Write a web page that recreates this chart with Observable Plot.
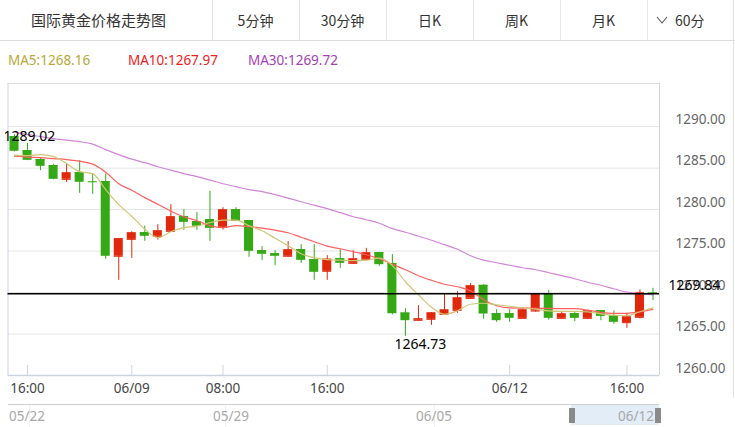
<!DOCTYPE html>
<html><head><meta charset="utf-8">
<script src="https://cdn.jsdelivr.net/npm/d3@7"></script>
<script src="https://cdn.jsdelivr.net/npm/@observablehq/plot@0.6"></script>
<style>
body{margin:0;background:#fff;font-family:"Noto Sans","Noto Sans CJK SC",sans-serif;}
#wrap{position:relative;width:735px;height:427px;overflow:hidden;background:#fff;}
.tabbar{position:absolute;left:0;top:0;width:735px;height:40px;border-bottom:1px solid #dcdcdc;}
.tab{position:absolute;top:0;height:40px;line-height:40px;text-align:center;color:#333;font-size:14px;font-family:"Noto Sans CJK SC","Noto Sans",sans-serif;}
.sep{position:absolute;top:0;width:1px;height:40px;background:#e6e6e6;}
.legend{position:absolute;top:51px;font-size:13.5px;line-height:18px;}
#chart{position:absolute;left:0;top:70px;}
.nav{position:absolute;left:8px;top:404px;width:651px;height:22px;border-top:1px solid #cfcfcf;}
.navlab{position:absolute;top:2px;font-size:13.5px;color:#a8a8a8;line-height:18px;}
.navtick{position:absolute;top:0;width:1px;height:22px;background:#eef1f5;}
.sel{position:absolute;left:563px;top:0;width:88px;height:20px;background:rgba(190,214,240,0.45);}
.handle{position:absolute;top:3px;width:6px;height:15px;background:#8a8a8a;}
.outer{position:absolute;left:733px;top:0;width:1px;height:398px;background:#e2e2e2;}
</style>
</head><body>
<div id="wrap">
  <div class="tabbar" id="tabbar"></div>
  <div id="legend"></div>
  <div id="chart"></div>
  <div class="nav" id="nav"></div>
  <div class="outer"></div>
</div>
<script>
// ---- data (hourly candles) ----
const open = [1288.79,1287.11,1286.02,1285.30,1283.65,1284.45,1283.35,1283.37,1274.37,1276.41,
  1277.22,1276.78,1277.38,1279.15,1278.55,1278.79,1277.86,1279.99,1278.67,1275.05,
  1274.69,1274.37,1275.17,1273.96,1272.56,1274.08,1273.52,1274.00,1274.81,1273.48,
  1267.53,1266.65,1266.77,1267.37,1267.85,1269.30,1270.87,1267.45,1267.45,1266.89,
  1267.77,1269.78,1266.89,1267.45,1266.89,1267.81,1267.17,1266.37,1267.01,1269.94];
const high = [1289.02,1287.99,1286.22,1285.46,1285.50,1285.90,1284.29,1284.29,1276.50,1277.34,
  1278.02,1278.18,1280.59,1279.99,1279.63,1282.20,1280.23,1280.23,1278.70,1275.53,
  1275.05,1276.13,1275.77,1275.77,1274.45,1275.21,1275.05,1275.33,1274.85,1274.57,
  1268.05,1268.42,1267.60,1269.78,1270.10,1271.07,1270.95,1267.93,1267.93,1267.95,
  1269.80,1270.23,1267.65,1267.65,1267.85,1267.85,1267.77,1267.49,1270.31,1270.51];
const low = [1286.95,1285.90,1284.69,1283.60,1283.25,1281.96,1281.84,1274.00,1271.47,1274.12,
  1276.17,1276.33,1277.30,1277.50,1277.50,1276.17,1277.54,1278.55,1274.24,1273.84,
  1273.24,1274.24,1273.52,1271.47,1271.47,1272.92,1273.44,1273.84,1273.16,1267.29,
  1264.73,1266.60,1266.05,1267.35,1267.49,1269.22,1266.77,1266.41,1266.41,1266.85,
  1267.61,1266.69,1266.85,1266.49,1266.77,1266.61,1266.17,1265.68,1266.81,1269.02];
const close = [1287.03,1285.94,1285.22,1283.65,1284.45,1283.29,1283.32,1274.37,1276.50,1277.22,
  1276.78,1277.46,1279.15,1278.46,1277.98,1277.74,1279.99,1278.59,1274.97,1274.61,
  1274.37,1275.17,1273.88,1272.44,1274.04,1273.52,1274.08,1274.81,1273.36,1267.45,
  1266.61,1266.85,1267.57,1267.93,1269.38,1270.83,1267.41,1266.61,1266.89,1267.93,
  1269.78,1266.89,1267.45,1266.89,1267.81,1267.13,1266.41,1267.09,1269.98,1269.84];
const ma5 = [1286.56,1286.50,1286.62,1286.38,1285.54,1284.57,1284.33,1282.40,1280.59,1279.20,
  1277.64,1276.61,1277.33,1277.82,1278.00,1278.42,1278.72,1278.72,1278.06,1277.45,
  1276.55,1275.65,1274.68,1274.20,1273.96,1273.90,1273.84,1273.90,1274.14,1273.24,
  1271.30,1269.73,1268.23,1267.38,1267.80,1268.59,1268.71,1268.53,1268.35,1268.17,
  1267.99,1267.80,1267.74,1267.74,1267.68,1267.44,1267.26,1267.20,1267.68,1268.16];
const ma10 = [1286.44,1286.32,1286.26,1286.14,1286.02,1285.84,1285.48,1284.51,1283.12,1282.34,
  1281.44,1280.65,1279.81,1279.14,1278.66,1278.06,1277.82,1278.06,1277.94,1277.76,
  1277.52,1277.21,1276.67,1276.13,1275.59,1275.28,1274.92,1274.56,1274.08,1273.41,
  1272.75,1272.03,1271.48,1271.00,1270.70,1270.22,1269.13,1268.41,1268.15,1268.12,
  1268.10,1268.08,1268.06,1268.05,1267.87,1267.62,1267.50,1267.50,1267.68,1267.97];
const ma30 = [1289.34,1289.03,1288.79,1288.55,1288.37,1288.19,1287.89,1287.23,1286.62,1286.08,
  1285.66,1285.17,1284.75,1284.33,1283.97,1283.55,1283.12,1282.76,1282.40,1282.16,
  1281.80,1281.38,1280.95,1280.53,1280.11,1279.63,1279.14,1278.78,1278.36,1277.70,
  1277.27,1276.79,1276.31,1275.77,1275.22,1274.44,1273.90,1273.59,1273.29,1272.99,
  1272.75,1272.39,1272.03,1271.66,1271.24,1270.88,1270.46,1270.04,1269.86,1269.72];
const xTickIdx = [1, 9, 16, 24, 38, 47];
const xTickLabels = ["16:00", "06/09", "08:00", "16:00", "06/12", "16:00"];
const yTicks = [1260, 1265, 1270, 1275, 1280, 1285, 1290];
const yDomain = [1260, 1295.2];
const xDomain = [-0.5, 49.5];
const tabTitle = "国际黄金价格走势图";
const tabLabels = ["5分钟", "30分钟", "日K", "周K", "月K"];
const periodLabel = "60分";
const legendItems = [["MA5", "1268.16"], ["MA10", "1267.97"], ["MA30", "1269.72"]];
const navLabels = ["05/22", "05/29", "06/05", "06/12"];

// ---- header ----
const tabbar = document.getElementById("tabbar");
let html = `<div class="tab" style="left:0;width:197px;font-size:15px">${tabTitle}</div><div class="sep" style="left:212px"></div>`;
tabLabels.forEach((t, k) => {
  const l = 212 + k * 87;
  html += `<div class="tab" style="left:${l}px;width:87px">${t}</div><div class="sep" style="left:${l + 87}px"></div>`;
});
html += `<div class="tab" style="left:655px;width:60px;text-align:left">
  <svg width="12" height="10" style="position:absolute;left:1px;top:16px"><polyline points="1,1 6,7 11,1" fill="none" stroke="#555" stroke-width="1.1"/></svg>
  <span style="position:absolute;left:20px;top:0">${periodLabel}</span></div>`;
tabbar.innerHTML = html;

const legendColors = ["#b5a93a", "#ee2020", "#a440b5"];
const legendLeft = [8, 128, 248];
document.getElementById("legend").innerHTML = legendItems.map((d, k) =>
  `<div class="legend" style="left:${legendLeft[k]}px;color:${legendColors[k]}">${d[0]}:${d[1]}</div>`).join("");

// ---- chart ----
const UP = "#e0260b", DOWN = "#35a816";
const idx = d3.range(open.length);
const candles = idx.map(i => ({i, open: open[i], high: high[i], low: low[i], close: close[i], up: close[i] > open[i]}));
const col = d => d.up ? UP : DOWN;
const maxI = d3.maxIndex(high), minI = d3.minIndex(low);
const last = close[close.length - 1];

const chart = Plot.plot({
  width: 735, height: 330,
  marginTop: 13, marginBottom: 25, marginLeft: 7.5, marginRight: 76,
  x: {type: "linear", domain: xDomain},
  y: {domain: yDomain},
  style: {fontFamily: "'Noto Sans', sans-serif", fontSize: "13.5px", background: "transparent", overflow: "visible"},
  marks: [
    Plot.gridY(yTicks, {stroke: "#e4e4e4", strokeOpacity: 1}),
    Plot.ruleY([yDomain[1]], {stroke: "#dedede"}),
    Plot.ruleY([yDomain[0]], {stroke: "#c9d2df", strokeWidth: 1.3}),
    Plot.ruleX(xDomain, {stroke: "#cdd5e1"}),
    Plot.ruleX(xTickIdx, {stroke: "#cdd5e1", insetTop: 282}),
    Plot.ruleX(candles, {x: "i", y1: "low", y2: "high", stroke: col}),
    Plot.rect(candles, {x1: d => d.i - 0.5, x2: d => d.i + 0.5, insetLeft: 2, insetRight: 2, y1: "open", y2: "close", fill: col}),
    Plot.ruleY(candles, {y: "open", x1: d => d.i - 0.5, x2: d => d.i + 0.5, insetLeft: 2, insetRight: 2, stroke: col}),
    Plot.line(idx, {x: d => d, y: d => ma30[d], stroke: "#cf86d6", strokeWidth: 1.2, curve: "monotone-x"}),
    Plot.line(idx, {x: d => d, y: d => ma10[d], stroke: "#ff5f5f", strokeWidth: 1.2, curve: "monotone-x"}),
    Plot.line(idx, {x: d => d, y: d => ma5[d], stroke: "#cfc675", strokeWidth: 1.2, curve: "monotone-x"}),
    Plot.ruleY([last], {stroke: "#000", strokeWidth: 1.5}),
    Plot.axisY(yTicks, {anchor: "right", tickSize: 0, tickPadding: 66, textAnchor: "end", dy: -7,
      tickFormat: d => d.toFixed(2), color: "#666", fontSize: 13.5, label: null}),
    Plot.text([last], {y: d => d, frameAnchor: "right", dx: 9, dy: -8, textAnchor: "start",
      text: d => d.toFixed(2), fill: "#000", fontSize: 14}),
    Plot.axisX(xTickIdx, {anchor: "bottom", tickSize: 0, tickPadding: 8,
      tickFormat: d => xTickLabels[xTickIdx.indexOf(d)], color: "#444", fontSize: 13.5, label: null}),
    Plot.text([maxI], {x: d => d, y: d => high[d], text: d => high[d].toFixed(2), textAnchor: "start",
      dx: -11, dy: 2, fill: "#000", fontSize: 14}),
    Plot.text([minI], {x: d => d, y: d => low[d], text: d => low[d].toFixed(2), textAnchor: "start",
      dx: -11, dy: 8, fill: "#000", fontSize: 14})
  ]
});
document.getElementById("chart").appendChild(chart);

// ---- navigator ----
const navLeft = [1, 205, 408, 610];
const navTicks = [21, 217, 426];
let nh = navTicks.map(x => `<div class="navtick" style="left:${x}px"></div>`).join("");
nh += `<div class="sel"></div><div class="handle" style="left:561px"></div><div class="handle" style="left:647px"></div>`;
nh += navLabels.map((t, k) => `<div class="navlab" style="left:${navLeft[k]}px">${t}</div>`).join("");
document.getElementById("nav").innerHTML = nh;
</script>
</body></html>
